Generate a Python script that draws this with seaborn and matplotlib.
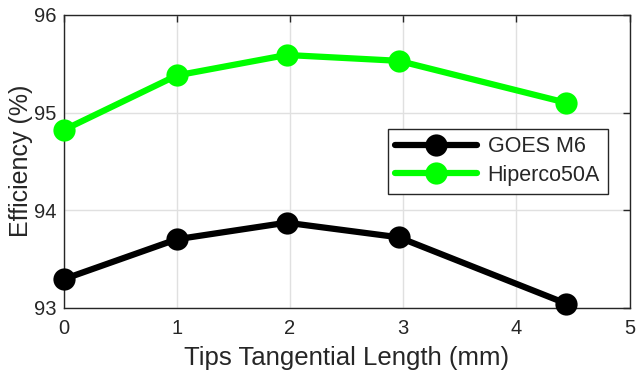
import pandas as pd
import matplotlib
matplotlib.use('Agg')
from matplotlib import pyplot as plt
import seaborn as sns

sns.set_style('whitegrid')
plt.rcParams['font.family'] = ['Liberation Sans', 'DejaVu Sans']

tip_length = [0, 1, 1.97, 2.96, 4.44]
goes_m6 = [93.29, 93.70, 93.87, 93.72, 93.04]
hiperco = [94.82, 95.38, 95.59, 95.53, 95.10]
series_names = ['GOES M6', 'Hiperco50A']
colors = ['#000000', '#00ff00']

df = pd.DataFrame({
    'x': tip_length * 2,
    'y': goes_m6 + hiperco,
    'material': [series_names[0]] * len(tip_length) + [series_names[1]] * len(tip_length),
})

fig, ax = plt.subplots(figsize=(6.36, 3.75), dpi=100)
sns.lineplot(data=df, x='x', y='y', hue='material', palette=colors,
             marker='o', markersize=16, linewidth=4.5, markeredgewidth=0,
             ax=ax, sort=False, clip_on=False, zorder=3)

ax.set_xlim(0, 5)
ax.set_ylim(93, 96)
ax.set_xticks([0, 1, 2, 3, 4, 5])
ax.set_yticks([93, 94, 95, 96])
ax.grid(True, color='#e0e0e0', linewidth=1)
for s in ax.spines.values():
    s.set_color('#262626')
    s.set_linewidth(1)
ax.tick_params(direction='in', length=5, width=1, color='#262626',
               top=True, right=True, labelsize=14.5, labelcolor='#262626', pad=5)
ax.tick_params(axis='x', pad=8)
ax.set_xlabel('Tips Tangential Length (mm)', fontsize=18.5, color='#262626', labelpad=6)
ax.set_ylabel('Efficiency (%)', fontsize=18, color='#262626', labelpad=1)

leg = ax.legend(loc='center right', bbox_to_anchor=(0.98, 0.50), fontsize=15.5,
                frameon=True, fancybox=False, edgecolor='#262626', framealpha=1,
                handlelength=3.8, borderpad=0.35, labelspacing=0.35, handletextpad=0.5)
leg.get_frame().set_linewidth(1)

fig.subplots_adjust(left=0.1, right=0.99, top=0.96, bottom=0.18)
fig.savefig('out.png', dpi=100, facecolor='white')
